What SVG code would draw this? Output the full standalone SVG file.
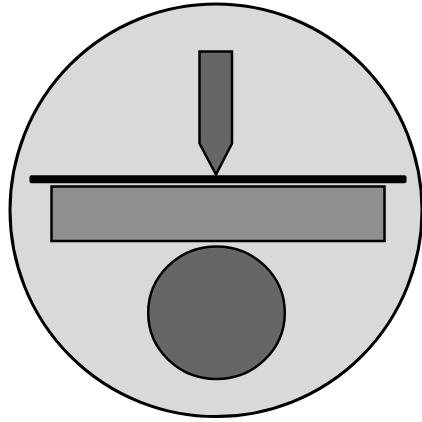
<svg xmlns="http://www.w3.org/2000/svg" width="422" height="422" viewBox="0 0 422 422">
<style>.s{stroke:#000;stroke-width:2.500}</style>
<rect width="422" height="422" fill="#fff"/>
<ellipse cx="216" cy="210.300" rx="206" ry="206.300" fill="#d9d9d9" stroke="#000" stroke-width="3"/>
<path class="s" d="M199.500 51.500H232V143.500L216 174.500L199.500 143.500Z" fill="#666"/>
<rect x="51.500" y="186.500" width="333" height="54.500" class="s" fill="#8f8f8f"/>
<rect x="29.500" y="175.300" width="377" height="8" rx="2" fill="#000"/>
<ellipse class="s" cx="216.500" cy="312.800" rx="68.300" ry="66.300" fill="#666"/>
</svg>
